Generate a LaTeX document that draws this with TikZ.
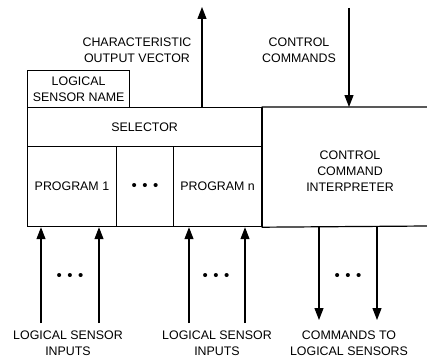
\documentclass[tikz,border=0pt]{standalone}
\usepackage{fontspec}
\setmainfont{Liberation Sans}
\usetikzlibrary{arrows.meta}
\begin{document}
\begin{tikzpicture}[x=1pt,y=-1pt,line width=1.2pt,
  txt/.style={font=\fontsize{12.4}{16.3}\selectfont,align=center,inner sep=0pt},
  box/.style={draw,txt,anchor=north west},
  dots/.style={font=\fontsize{15}{15}\selectfont,inner sep=0pt},
  arr/.style={-{Triangle[length=12pt,width=9pt]}}]
\useasboundingbox (0,0) rectangle (427,361);
% boxes
\node[box,minimum width=102pt,minimum height=37pt] (name) at (27,70) {LOGICAL\\SENSOR NAME};
\node[box,minimum width=234pt,minimum height=39pt] (sel) at (27,107) {SELECTOR};
\node[box,minimum width=88.7pt,minimum height=80pt] (p1) at (27,146) {PROGRAM 1};
\node[box,minimum width=57.3pt,minimum height=80pt] (pd) at (115.7,146) {};
\node[dots] (pdots) at (pd.center) {•\hspace{5.5pt}•\hspace{5.5pt}•};
\node[box,minimum width=88pt,minimum height=80pt] (pn) at (173,146) {PROGRAM n};
% interpreter region (open to the right)
\coordinate (tr) at (427,107);
\coordinate (br) at (427,226);
\draw (tr) -- (sel.north east) -- (pn.south east) -- (br);
\node[txt] (interp) at (350,171) {CONTROL\\COMMAND\\INTERPRETER};
% top arrows
\coordinate (outtop) at (202,7);
\draw[arr] (outtop |- sel.north) -- (outtop);
\node[txt] (outlbl) at (137,50) {CHARACTERISTIC\\OUTPUT VECTOR};
\coordinate (cctop) at (349,8);
\draw[arr] (cctop) -- (cctop |- sel.north);
\node[txt] (cclbl) at (299,50) {CONTROL\\COMMANDS};
% inputs
\coordinate (in1) at (41,323);
\coordinate (in2) at (99,323);
\coordinate (in3) at (189,323);
\coordinate (in4) at (245,323);
\draw[arr] (in1) -- (in1 |- p1.south);
\draw[arr] (in2) -- (in2 |- p1.south);
\draw[arr] (in3) -- (in3 |- pn.south);
\draw[arr] (in4) -- (in4 |- pn.south);
\node[dots] (d1) at (70,277) {•\hspace{5.5pt}•\hspace{5.5pt}•};
\node[dots] (d2) at (216,277) {•\hspace{5.5pt}•\hspace{5.5pt}•};
\node[txt] (il1) at (68,343.5) {LOGICAL SENSOR\\INPUTS};
\node[txt] (il2) at (217,343.5) {LOGICAL SENSOR\\INPUTS};
% outputs
\coordinate (o1) at (319,320);
\coordinate (o2) at (377,320);
\draw[arr] (o1 |- pn.south) -- (o1);
\draw[arr] (o2 |- pn.south) -- (o2);
\node[dots] (d3) at (348,277) {•\hspace{5.5pt}•\hspace{5.5pt}•};
\node[txt] (ol) at (349,343.5) {COMMANDS TO\\LOGICAL SENSORS};
\end{tikzpicture}
\end{document}
